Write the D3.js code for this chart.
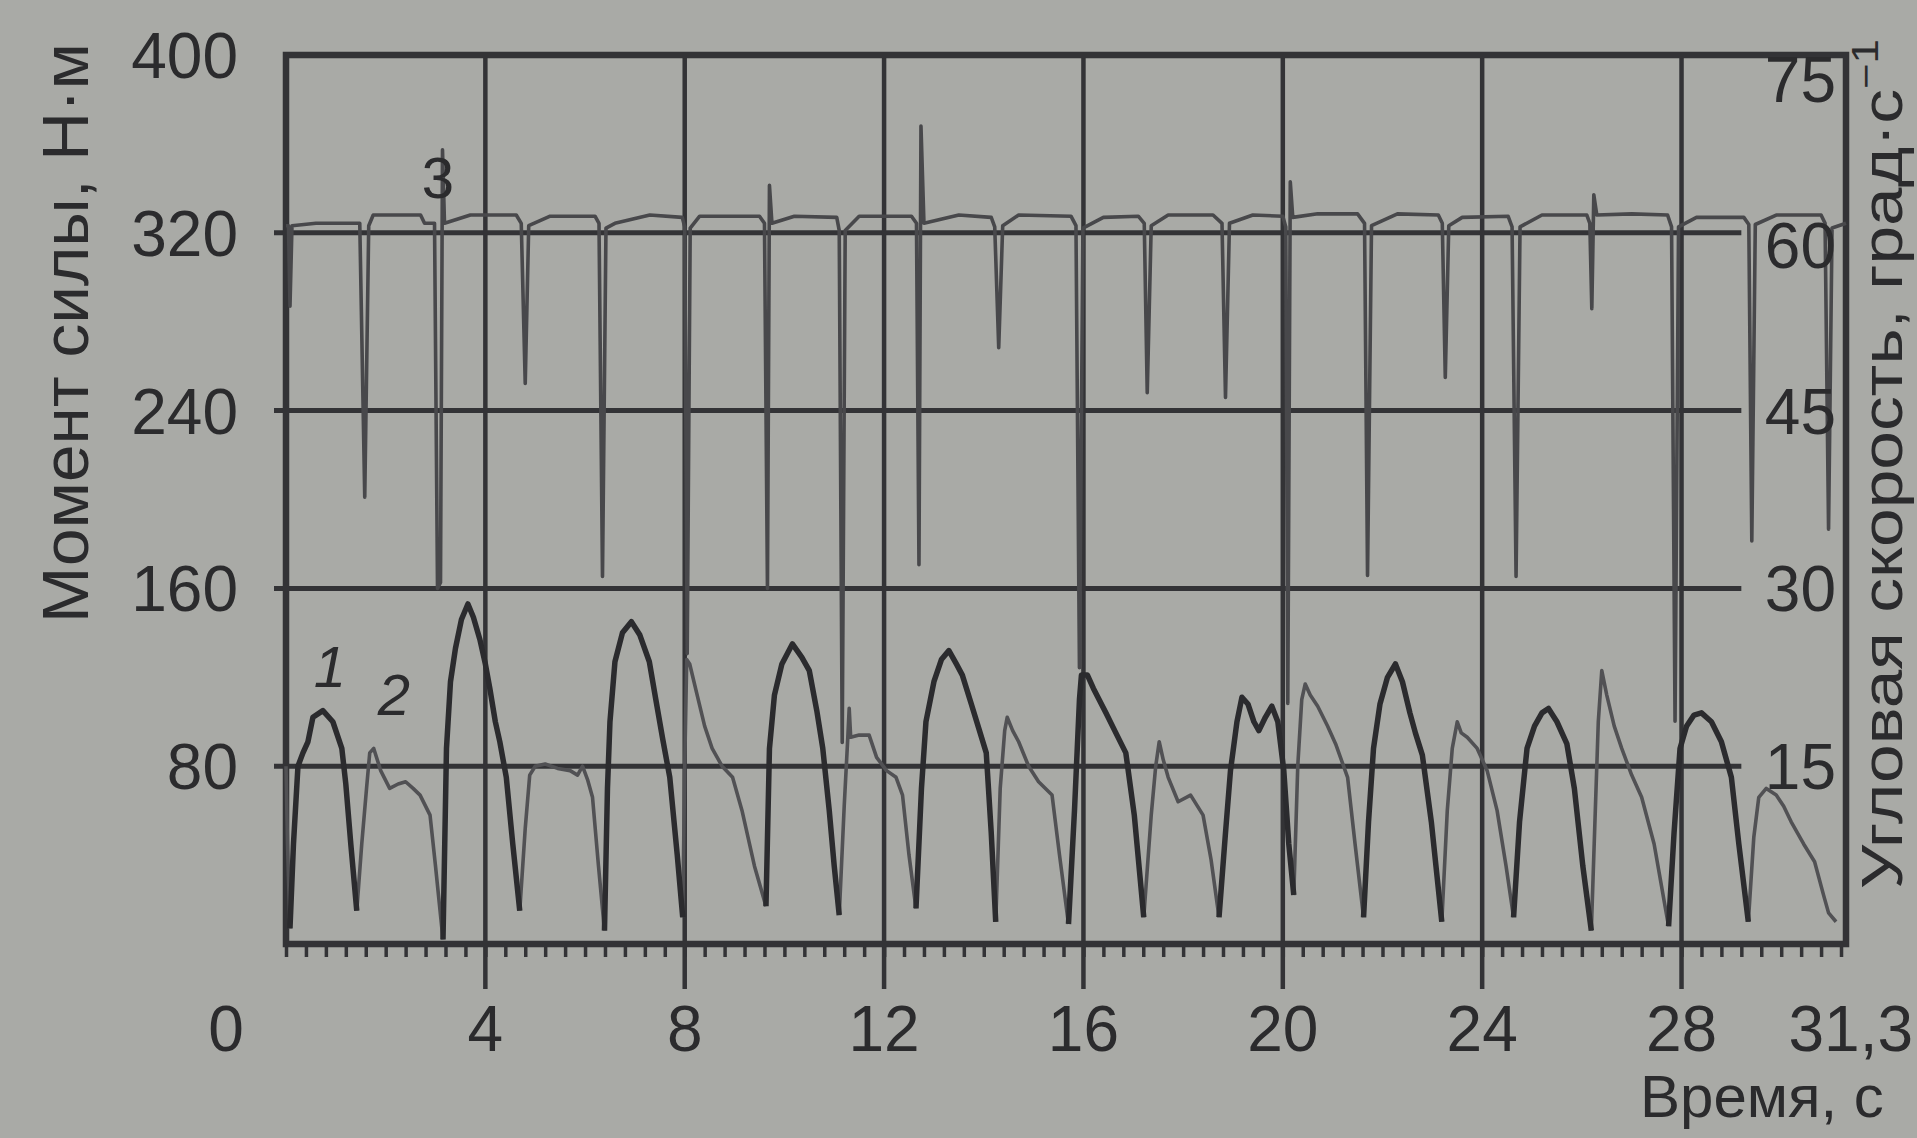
<!DOCTYPE html>
<html>
<head>
<meta charset="utf-8">
<script src="https://cdn.jsdelivr.net/npm/d3@7"></script>
<style>
  html, body { margin: 0; padding: 0; background: #a9aaa6; overflow: hidden; }
  svg { display: block; }
  text { font-family: "Liberation Sans", Arial, sans-serif; fill: #2b2b2d; }
</style>
</head>
<body>
<svg id="chart" width="1917" height="1138"></svg>
<script>
// Time axis (s)
const timeTicks = [0, 4, 8, 12, 16, 20, 24, 28];
const timeEnd = 31.3;
const timeEndLabel = "31,3";
// Left axis: torque, N·m
const torqueTicks = [80, 160, 240, 320, 400];
// Right axis: angular velocity, deg/s
const velocityTicks = [15, 30, 45, 60, 75];

// Curve 1 — torque during extension, one array per cycle: [time s, torque N·m]
const extensionCycles = [
  [[0.08,7],[0.15,45],[0.24,80],[0.34,86],[0.44,91],[0.54,102],[0.74,105],[0.94,100],[1.12,88],[1.2,72],[1.3,45],[1.42,15]],
  [[3.15,2],[3.22,88],[3.3,118],[3.4,133],[3.52,146],[3.65,153],[3.76,147],[3.89,137],[4.0,126],[4.09,115],[4.2,100],[4.29,91],[4.42,75],[4.55,45],[4.69,15]],
  [[6.39,6],[6.45,70],[6.5,100],[6.6,127],[6.75,140],[6.93,145],[7.1,139],[7.29,127],[7.42,110],[7.56,92],[7.7,75],[7.85,40],[7.96,12]],
  [[9.63,17],[9.7,88],[9.8,112],[9.95,126],[10.16,135],[10.35,129],[10.5,123],[10.65,105],[10.77,88],[10.9,60],[11.0,35],[11.1,13]],
  [[12.64,16],[12.75,70],[12.84,100],[13.0,118],[13.15,128],[13.3,132],[13.45,126],[13.57,121],[13.75,108],[13.9,97],[14.05,86],[14.15,50],[14.24,10]],
  [[15.7,9],[15.82,60],[15.92,110],[15.96,121],[16.08,121],[16.2,115],[16.45,104],[16.65,95],[16.85,86],[17.02,58],[17.21,12]],
  [[18.72,12],[18.85,50],[18.95,78],[19.08,100],[19.18,111],[19.3,108],[19.42,100],[19.52,96],[19.65,102],[19.78,107],[19.9,100],[20.02,78],[20.12,45],[20.22,22]],
  [[21.62,12],[21.72,55],[21.82,88],[21.95,108],[22.1,120],[22.26,126],[22.4,118],[22.55,104],[22.66,95],[22.8,85],[22.98,55],[23.19,10]],
  [[24.63,12],[24.75,55],[24.9,88],[25.05,98],[25.2,104],[25.33,106],[25.5,100],[25.7,90],[25.85,70],[26.02,35],[26.19,6]],
  [[27.74,8],[27.85,50],[27.97,88],[28.1,98],[28.25,103],[28.4,104],[28.6,100],[28.8,91],[29.0,75],[29.15,45],[29.34,10]]
];

// Curve 2 — torque during flexion, one array per cycle: [time s, torque N·m]
const flexionCycles = [
  [[0,80],[0.03,45],[0.08,7]],
  [[1.42,15],[1.52,45],[1.62,71],[1.68,86],[1.76,88],[1.9,78],[2.08,70],[2.25,72],[2.4,73],[2.55,70],[2.69,67],[2.89,58],[3.0,35],[3.15,2]],
  [[4.69,15],[4.8,52],[4.89,76],[5.0,80],[5.2,81],[5.45,79],[5.7,78],[5.85,76],[5.95,80],[6.05,74],[6.15,66],[6.27,35],[6.39,6]],
  [[7.96,12],[8.0,80],[8.04,128],[8.1,126],[8.25,112],[8.4,98],[8.55,88],[8.75,80],[8.96,75],[9.15,60],[9.4,35],[9.63,17]],
  [[11.1,13],[11.2,62],[11.27,92],[11.3,106],[11.33,93],[11.5,94],[11.7,94],[11.85,84],[12.05,78],[12.24,75],[12.37,67],[12.5,40],[12.64,16]],
  [[14.24,10],[14.33,70],[14.42,96],[14.47,102],[14.58,96],[14.7,91],[14.9,80],[15.1,73],[15.37,67],[15.52,40],[15.7,9]],
  [[17.21,12],[17.36,58],[17.45,80],[17.52,91],[17.6,83],[17.7,75],[17.9,64],[18.15,67],[18.4,58],[18.56,38],[18.72,12]],
  [[20.22,22],[20.3,80],[20.38,110],[20.45,117],[20.55,112],[20.7,107],[20.9,98],[21.06,90],[21.3,75],[21.45,45],[21.62,12]],
  [[23.19,10],[23.3,60],[23.4,88],[23.5,100],[23.58,95],[23.7,93],[23.9,88],[24.1,78],[24.3,60],[24.48,35],[24.63,12]],
  [[26.19,6],[26.27,60],[26.33,100],[26.4,123],[26.5,112],[26.65,98],[26.8,88],[27.0,76],[27.2,66],[27.45,45],[27.74,8]],
  [[29.34,10],[29.45,48],[29.55,66],[29.7,70],[29.9,67],[30.05,62],[30.2,55],[30.45,45],[30.67,37],[30.85,22],[30.95,14],[31.1,10]]
];

// Curve 3 — angular velocity: [time s, deg/s]
const velocity = [
  [0.0,60.6],[0.05,60.6],[0.08,53.8],[0.12,60.6],[0.6,60.8],[1.48,60.8],[1.58,37.7],[1.66,60.6],[1.75,61.5],[2.7,61.5],
  [2.78,60.8],[2.98,60.8],[3.04,30],[3.1,30.5],[3.14,67],[3.18,60.8],[3.7,61.5],[4.62,61.5],[4.72,60.8],[4.8,47.3],
  [4.87,60.6],[5.3,61.4],[6.2,61.4],[6.28,60.8],[6.35,31],[6.42,60.4],[6.6,60.8],[7.3,61.5],[7.95,61.3],[8.0,60.5],
  [8.05,24.5],[8.11,60.4],[8.3,61.4],[9.5,61.4],[9.6,60.8],[9.66,30],[9.7,64],[9.75,60.8],[10.2,61.4],[11.05,61.3],
  [11.1,60.2],[11.16,17],[11.22,60.2],[11.5,61.4],[12.55,61.4],[12.65,60.8],[12.7,32],[12.74,69],[12.8,60.8],[13.5,61.5],
  [14.15,61.3],[14.22,60.5],[14.3,50.3],[14.38,60.6],[14.7,61.5],[15.75,61.4],[15.85,60.6],[15.92,23.3],[15.99,60.4],[16.4,61.3],
  [17.1,61.4],[17.22,60.8],[17.28,46.5],[17.36,60.6],[17.7,61.5],[18.6,61.5],[18.78,60.8],[18.85,46.1],[18.93,60.8],[19.4,61.5],
  [20.0,61.4],[20.06,60.5],[20.1,20.3],[20.15,64.3],[20.2,61.3],[20.7,61.6],[21.5,61.6],[21.64,60.8],[21.7,31.1],[21.78,60.6],
  [22.3,61.6],[23.12,61.5],[23.2,60.8],[23.26,47.8],[23.33,60.6],[23.6,61.3],[24.52,61.4],[24.6,60.5],[24.68,31],[24.76,60.5],
  [25.2,61.5],[26.1,61.5],[26.16,60.8],[26.2,53.6],[26.24,63.2],[26.3,61.5],[27.0,61.6],[27.72,61.5],[27.8,60.5],[27.87,18.8],
  [27.94,60.5],[28.3,61.3],[29.25,61.3],[29.35,60.7],[29.41,34],[29.48,60.7],[29.9,61.5],[30.8,61.5],[30.88,60.8],[30.95,35],
  [31.02,60.4],[31.3,60.8]
];

const svg = d3.select("#chart");
const ink = "#333336";

const x = d3.scaleLinear().domain([0, timeEnd]).range([286, 1846]);
const yT = d3.scaleLinear().domain([0, 400]).range([944, 55]);
const yV = d3.scaleLinear().domain([0, 75]).range([944, 55]);

const gridEndTime = 29.2;

// horizontal grid lines (torque)
svg.append("g").selectAll("line")
  .data(torqueTicks.filter(v => v < 400))
  .join("line")
  .attr("x1", x(0) - 12).attr("x2", x(gridEndTime))
  .attr("y1", d => yT(d)).attr("y2", d => yT(d))
  .attr("stroke", ink).attr("stroke-width", 5);

// vertical grid lines, running past the axis as major ticks
svg.append("g").selectAll("line")
  .data(timeTicks.filter(t => t > 0))
  .join("line")
  .attr("x1", d => x(d)).attr("x2", d => x(d))
  .attr("y1", yT(400)).attr("y2", yT(0) + 45)
  .attr("stroke", ink).attr("stroke-width", 4.5);

// minor time ticks every 0.4 s
const minor = d3.range(0, timeEnd, 0.4);
const xAxis = d3.axisBottom(x).tickValues(minor).tickSize(13).tickFormat("");
const gx = svg.append("g").attr("transform", `translate(0,${yT(0)})`).call(xAxis);
gx.select(".domain").remove();
gx.selectAll(".tick line").attr("stroke", ink).attr("stroke-width", 3.5);

// frame
svg.append("rect")
  .attr("x", x(0)).attr("y", yT(400))
  .attr("width", x(timeEnd) - x(0)).attr("height", yT(0) - yT(400))
  .attr("fill", "none").attr("stroke", ink).attr("stroke-width", 6.5);

// curves
const lineT = d3.line().x(d => x(d[0])).y(d => yT(d[1]));
const lineV = d3.line().x(d => x(d[0])).y(d => yV(d[1]));

svg.append("path").datum(velocity)
  .attr("d", lineV).attr("fill", "none")
  .attr("stroke", "#48484b").attr("stroke-width", 3.6).attr("stroke-linejoin", "round");

svg.append("g").selectAll("path").data(flexionCycles).join("path")
  .attr("d", lineT).attr("fill", "none")
  .attr("stroke", "#515154").attr("stroke-width", 3.6).attr("stroke-linejoin", "round");

svg.append("g").selectAll("path").data(extensionCycles).join("path")
  .attr("d", lineT).attr("fill", "none")
  .attr("stroke", "#2b2b2e").attr("stroke-width", 5.5).attr("stroke-linejoin", "round");

// left tick labels
svg.append("g").selectAll("text").data(torqueTicks).join("text")
  .attr("x", 238).attr("y", d => yT(d)).attr("dy", "0.36em")
  .attr("text-anchor", "end").attr("font-size", 64)
  .text(d => d);

// right tick labels
const rightShift = { 75: 24, 60: 12 };
svg.append("g").selectAll("text").data(velocityTicks).join("text")
  .attr("x", 1836).attr("y", d => yV(d) + (rightShift[d] || 0)).attr("dy", "0.36em")
  .attr("text-anchor", "end").attr("font-size", 64)
  .text(d => d);

// time labels
svg.append("g").selectAll("text").data(timeTicks).join("text")
  .attr("x", d => d === 0 ? x(0) - 60 : x(d)).attr("y", 1051)
  .attr("text-anchor", "middle").attr("font-size", 64)
  .text(d => d);
svg.append("text")
  .attr("x", 1913).attr("y", 1051)
  .attr("text-anchor", "end").attr("font-size", 64)
  .text(timeEndLabel);

// axis titles
svg.append("text")
  .attr("transform", "translate(88,333) rotate(-90)")
  .attr("text-anchor", "middle").attr("font-size", 64)
  .attr("textLength", 580).attr("lengthAdjust", "spacingAndGlyphs")
  .text("Момент силы, Н·м");

const rt = svg.append("text")
  .attr("transform", "translate(1902,464) rotate(-90)")
  .attr("text-anchor", "middle").attr("font-size", 57)
  .attr("textLength", 850).attr("lengthAdjust", "spacingAndGlyphs");
rt.append("tspan").text("Угловая скорость, град·с");
rt.append("tspan").attr("font-size", 36).attr("dy", -24).text("−1");

svg.append("text")
  .attr("x", 1640).attr("y", 1117).attr("font-size", 60)
  .text("Время, с");

// curve numbers
svg.append("text").attr("x", 330).attr("y", 687).attr("font-size", 58)
  .attr("font-style", "italic").attr("text-anchor", "middle").text("1");
svg.append("text").attr("x", 394).attr("y", 715).attr("font-size", 58)
  .attr("font-style", "italic").attr("text-anchor", "middle").text("2");
svg.append("text").attr("x", 438).attr("y", 198).attr("font-size", 58)
  .attr("text-anchor", "middle").text("3");
</script>
</body>
</html>
